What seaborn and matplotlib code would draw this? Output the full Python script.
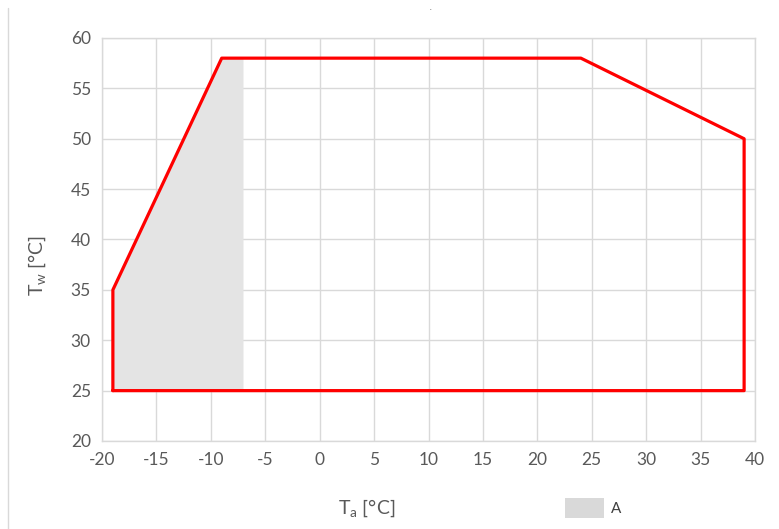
import pandas as pd
import matplotlib.pyplot as plt
import matplotlib
import numpy as np
import seaborn as sns
from matplotlib.patches import Patch
from matplotlib.lines import Line2D

matplotlib.use('Agg')

# operating envelope (red outline)
ta_limit = [-19, -19, -9, 24, 39, 39, -19]
tw_limit = [25, 35, 58, 58, 50, 25, 25]

# shaded region A
ta_area = [-19, -19, -9, -7, -7]
tw_area = [25, 35, 58, 58, 25]

x_ticks = list(range(-20, 41, 5))
y_ticks = list(range(20, 61, 5))

sns.set_theme(style='whitegrid')
plt.rcParams['font.family'] = ['Lato', 'DejaVu Sans']
plt.rcParams['mathtext.fontset'] = 'custom'
plt.rcParams['mathtext.rm'] = 'Lato'
plt.rcParams['mathtext.it'] = 'Lato'
plt.rcParams['axes.unicode_minus'] = False

grey = '#595959'
grid_c = '#d9d9d9'

fig = plt.figure(figsize=(7.79, 5.29), dpi=100)
ax = fig.add_axes([102 / 779, 1 - 441 / 529, 653 / 779, 403 / 529])

ax.fill(ta_area, tw_area, color='#e4e4e4', zorder=1, lw=0)
df = pd.DataFrame({'Ta': ta_limit, 'Tw': tw_limit})
sns.lineplot(data=df, x='Ta', y='Tw', sort=False, estimator=None, color='#ff0000',
             linewidth=2.3, ax=ax, zorder=3)

ax.set_xlim(-20, 40)
ax.set_ylim(20, 60)
ax.set_xticks(x_ticks)
ax.set_yticks(y_ticks)
ax.grid(True, color=grid_c, linewidth=1.0)
ax.set_axisbelow(True)
for s in ax.spines.values():
    s.set_color(grid_c)
    s.set_linewidth(1.0)
ax.tick_params(axis='both', colors=grey, labelsize=12.5, length=0, pad=8)

ax.set_xlabel('T$_\\mathregular{a}$ [°C]', color=grey, fontsize=14, va='center')
ax.set_ylabel('T$_\\mathregular{w}$ [°C]', color=grey, fontsize=14, va='center')
ax.xaxis.set_label_coords((367 - 102) / 653, (441 - 508) / 403)
ax.yaxis.set_label_coords((37 - 102) / 653, (441 - 265) / 403)

fig.legend(handles=[Patch(facecolor='#d9d9d9', edgecolor='none', label='A')],
           loc='center left', bbox_to_anchor=(551 / 779, 1 - 508 / 529),
           frameon=False, fontsize=11, handlelength=2.6, handleheight=1.7,
           handletextpad=0.45, labelcolor='#404040')

# left frame line and tiny title mark
fig.add_artist(Line2D([8 / 779, 8 / 779], [0, 1 - 8 / 529], color=grid_c, lw=1.0))
fig.text(430 / 779, 1 - 8 / 529, '.', color=grey, fontsize=5, ha='center', va='center')

fig.savefig('out.png', dpi=100)
